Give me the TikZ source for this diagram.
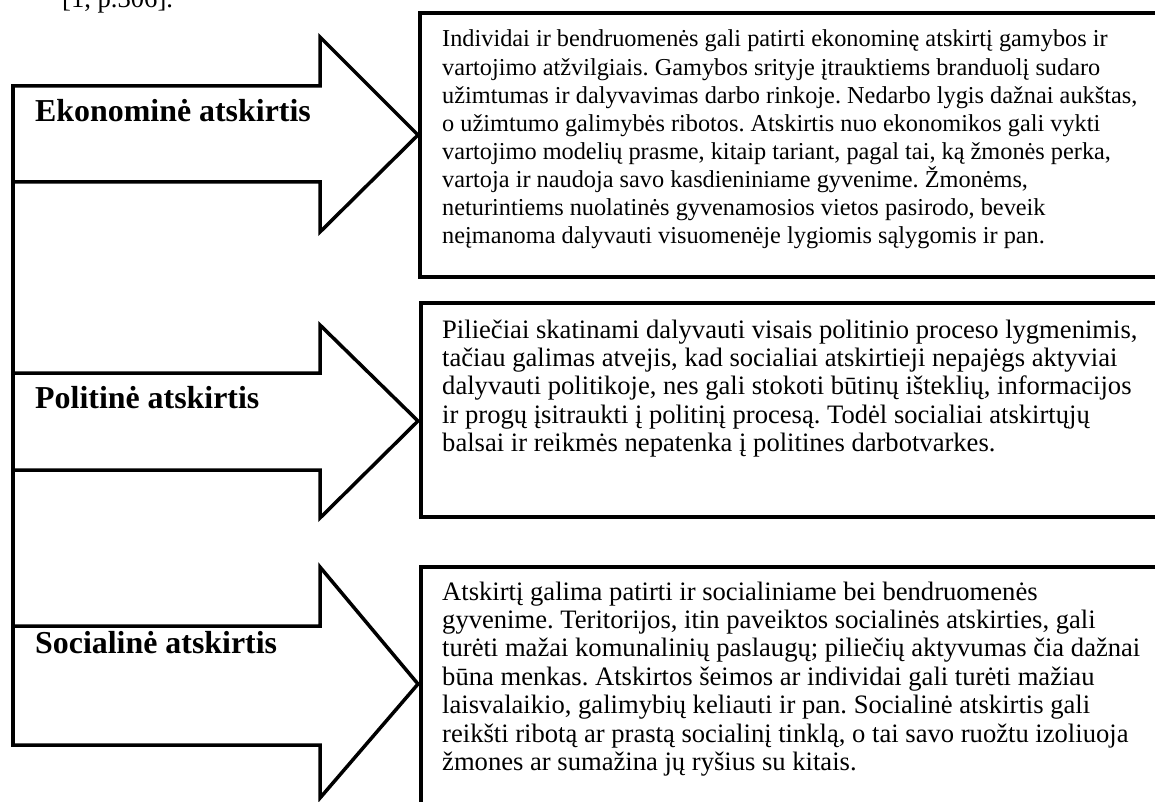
\documentclass[tikz,border=0pt]{standalone}
\usepackage{fontspec}
\setmainfont{Liberation Serif}
\frenchspacing
\begin{document}
\begin{tikzpicture}[x=1pt,y=-1pt,
  outline/.style={draw=black,line width=3.5pt,line join=miter},
  boxline/.style={draw=black,line width=4pt},
  lbl/.style={anchor=base west,inner sep=0pt,font=\fontsize{31.9}{36}\selectfont\bfseries},
  smalltxt/.style={anchor=base west,inner sep=0pt,font=\fontsize{24.3}{28.1}\selectfont},
  bigtxt/.style={anchor=base west,inner sep=0pt,font=\fontsize{26.6}{28.4}\selectfont}]
\useasboundingbox (0,0) rectangle (1155,802);
\fill[white] (0,0) rectangle (1155,802);
% top partial caption
\node[bigtxt] (cap) at (62,8) {[1, p.306].};
% boxes
\draw[boxline] (420,13) rectangle (1180,277);
\draw[boxline] (421,303) rectangle (1180,517);
\draw[boxline] (421,567) rectangle (1180,820);
% arrows
\draw[outline] (13,86) -- (320,86) -- (320,37) -- (418,135) -- (320,232) -- (320,182) -- (13,182);
\draw[outline] (13,373) -- (320,373) -- (320,325) -- (418,421) -- (320,518) -- (320,470) -- (13,470);
\draw[outline] (13,626) -- (320,626) -- (320,567) -- (418,684) -- (320,798) -- (320,745) -- (13,745);
\draw[outline,line cap=rect] (13,86) -- (13,745);
% labels
\node[lbl] (l1) at (35,122) {Ekonominė atskirtis};
\node[lbl] (l2) at (35,408) {Politinė atskirtis};
\node[lbl] (l3) at (35,653) {Socialinė atskirtis};
% texts
\node[smalltxt] (t1) at (442,47) {\parbox[t]{720pt}{\fontsize{24.3}{28.1}\selectfont\raggedright
Individai ir bendruomenės gali patirti ekonominę atskirtį gamybos ir\\
vartojimo atžvilgiais. Gamybos srityje įtrauktiems branduolį sudaro\\
užimtumas ir dalyvavimas darbo rinkoje. Nedarbo lygis dažnai aukštas,\\
o užimtumo galimybės ribotos. Atskirtis nuo ekonomikos gali vykti\\
vartojimo modelių prasme, kitaip tariant, pagal tai, ką žmonės perka,\\
vartoja ir naudoja savo kasdieniniame gyvenime. Žmonėms,\\
neturintiems nuolatinės gyvenamosios vietos pasirodo, beveik\\
neįmanoma dalyvauti visuomenėje lygiomis sąlygomis ir pan.}};
\node[bigtxt] (t2) at (442,338) {\parbox[t]{720pt}{\fontsize{26.6}{28.4}\selectfont\raggedright
Piliečiai skatinami dalyvauti visais politinio proceso lygmenimis,\\
tačiau galimas atvejis, kad socialiai atskirtieji nepajėgs aktyviai\\
dalyvauti politikoje, nes gali stokoti būtinų išteklių, informacijos\\
ir progų įsitraukti į politinį procesą. Todėl socialiai atskirtųjų\\
balsai ir reikmės nepatenka į politines darbotvarkes.}};
\node[bigtxt] (t3) at (442,600) {\parbox[t]{720pt}{\fontsize{26.6}{28.4}\selectfont\raggedright
Atskirtį galima patirti ir socialiniame bei bendruomenės\\
gyvenime. Teritorijos, itin paveiktos socialinės atskirties, gali\\
turėti mažai komunalinių paslaugų; piliečių aktyvumas čia dažnai\\
būna menkas. Atskirtos šeimos ar individai gali turėti mažiau\\
laisvalaikio, galimybių keliauti ir pan. Socialinė atskirtis gali\\
reikšti ribotą ar prastą socialinį tinklą, o tai savo ruožtu izoliuoja\\
žmones ar sumažina jų ryšius su kitais.}};
\end{tikzpicture}
\end{document}
